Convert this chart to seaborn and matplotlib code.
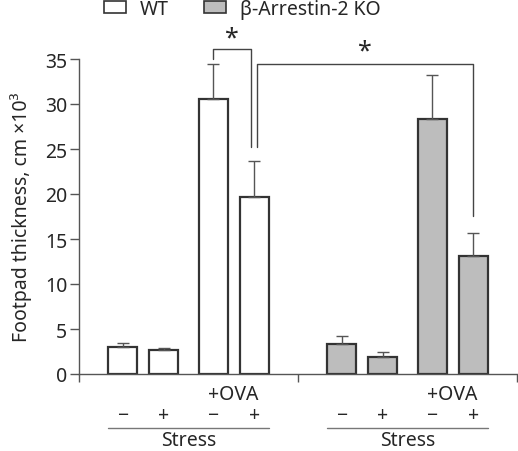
import numpy as np
import pandas as pd
import matplotlib.pyplot as plt
from matplotlib.patches import Patch
import seaborn as sns

# values (cm x10^3), upper error bar only
genotypes = ["WT", "β-Arrestin-2 KO"]
stress_labels = ["−", "+", "−", "+"]
wt_mean = [3.0, 2.7, 30.6, 19.7]
wt_err = [0.5, 0.2, 3.9, 4.0]
ko_mean = [3.3, 1.9, 28.3, 13.1]
ko_err = [0.9, 0.5, 4.9, 2.6]

sns.set_style("ticks")
plt.rcParams['font.family'] = ['Noto Sans', 'DejaVu Sans']
fs = 14

# each genotype group spans one x unit, four bars in it
offsets = np.array([0.2, 0.388, 0.612, 0.8])
pos = np.concatenate([offsets, 1 + offsets])

df = pd.DataFrame({
    "pos": pos,
    "thickness": wt_mean + ko_mean,
    "err": wt_err + ko_err,
    "genotype": [genotypes[0]] * 4 + [genotypes[1]] * 4,
})

colors = {genotypes[0]: "white", genotypes[1]: "#bdbdbd"}
edge = "#333333"
line_c = "#555555"

fig = plt.figure(figsize=(5.18, 4.52), dpi=100)
ax = fig.add_axes([79 / 518, 77 / 452, 438 / 518, 315 / 452])

sns.barplot(data=df, x="pos", y="thickness", hue="genotype", palette=colors,
            native_scale=True, dodge=False, width=0.705, errorbar=None,
            edgecolor=edge, linewidth=1.6, legend=False, ax=ax)

ax.errorbar(df["pos"], df["thickness"], yerr=[np.zeros(len(df)), df["err"]],
            fmt="none", ecolor=line_c, elinewidth=1, capsize=4, capthick=1, zorder=1)

ax.set_xlim(0, 2)
ax.set_ylim(0, 35)
ax.set_yticks(range(0, 36, 5))
ax.set_xticks([0, 1, 2])
ax.set_xticklabels([])
ax.set_xlabel("")
ax.set_ylabel("Footpad thickness, cm ×10³", fontsize=fs, labelpad=9)
ax.tick_params(axis="y", labelsize=fs, length=6.5, width=1, color=line_c, pad=2)
ax.tick_params(axis="x", length=6, width=1, color=line_c)
for s in ["left", "bottom"]:
    ax.spines[s].set_color(line_c)
    ax.spines[s].set_linewidth(1)
sns.despine(ax=ax)

# labels under the x axis
for g in range(2):
    ax.text(g + 0.706, -2.2, "+OVA", ha="center", va="center", fontsize=fs, clip_on=False)
    for o, lab in zip(offsets, stress_labels):
        ax.text(g + o, -4.6, lab, ha="center", va="center", fontsize=fs, clip_on=False)
    ax.plot([g + 0.134, g + 0.866], [-6.0, -6.0], color="#777777", lw=1, clip_on=False)
    ax.text(g + 0.5, -7.35, "Stress", ha="center", va="center", fontsize=fs, clip_on=False)

# significance brackets
bk = "#444444"
ax.plot([0.612, 0.612, 0.785, 0.785], [35.0, 36.1, 36.1, 25.2], color=bk, lw=1, clip_on=False)
ax.text(0.70, 37.3, "*", ha="center", va="center", fontsize=18, clip_on=False)
ax.plot([0.813, 0.813, 1.8, 1.8], [25.2, 34.4, 34.4, 17.6], color=bk, lw=1, clip_on=False)
ax.text(1.306, 35.9, "*", ha="center", va="center", fontsize=18, clip_on=False)

handles = [Patch(facecolor=colors[g], edgecolor=edge, linewidth=1.2) for g in genotypes]
fig.legend(handles, genotypes, loc="center", bbox_to_anchor=(0.467, 0.978), ncol=2,
           frameon=False, fontsize=fs, handlelength=1.15, handleheight=0.6,
           columnspacing=1.8, handletextpad=0.7, borderpad=0)

fig.savefig("out.png", dpi=100)
